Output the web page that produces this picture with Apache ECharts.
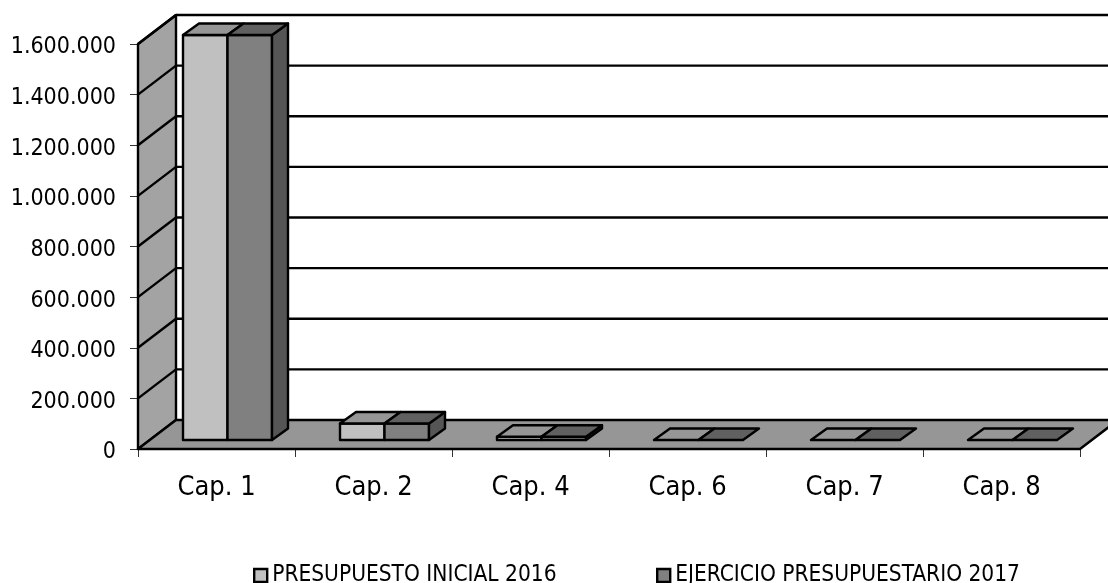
<!DOCTYPE html>
<html>
<head>
<meta charset="utf-8">
<title>Presupuesto por capítulos</title>
<script src="https://cdn.jsdelivr.net/npm/echarts@6/dist/echarts.min.js"></script>
<style>
  html, body { margin: 0; padding: 0; background: #fff; }
  #main { width: 1108px; height: 583px; }
</style>
</head>
<body>
<div id="main"></div>
<script>
const categories = ['Cap. 1', 'Cap. 2', 'Cap. 4', 'Cap. 6', 'Cap. 7', 'Cap. 8'];
const presupuesto = [1600000, 65000, 13000, 0, 0, 0];
const ejercicio = [1600000, 65000, 13000, 0, 0, 0];
const yTicks = [0, 200000, 400000, 600000, 800000, 1000000, 1200000, 1400000, 1600000];
const seriesNames = ['PRESUPUESTO INICIAL 2016', 'EJERCICIO PRESUPUESTARIO 2017'];

// fake 3d: how far the back wall sits from the axis plane
const wallDx = 38;
const wallDy = -29;
// bars stand a bit in front of the wall
const barShiftX = 11;
const barShiftY = -9;
const barDepthX = 16;
const barDepthY = -11.5;
const barWidth = 44.5;

const stroke = { stroke: '#000', lineWidth: 2.4, lineJoin: 'round' };

const poly = (points, fill) => ({
  type: 'polygon',
  shape: { points },
  style: { fill, ...stroke },
});

const line = (a, b) => ({
  type: 'polyline',
  shape: { points: [a, b] },
  style: { fill: null, ...stroke },
});

const renderBackdrop = (params, api) => {
  const origin = api.coord([0, 0]);
  const left = origin[0] - api.size([1, 0])[0] / 2;
  const right = left + api.size([1, 0])[0] * categories.length;
  const bottom = origin[1];
  const top = api.coord([0, yTicks[yTicks.length - 1]])[1];
  const children = [
    // wall
    poly([[left, bottom], [left + wallDx, bottom + wallDy], [left + wallDx, top + wallDy], [left, top]], '#a3a3a3'),
    // floor
    poly([[left, bottom], [right, bottom], [right + wallDx, bottom + wallDy], [left + wallDx, bottom + wallDy]], '#969696'),
  ];
  yTicks.forEach((t) => {
    const y = api.coord([0, t])[1];
    if (t > 0) children.push(line([left, y], [left + wallDx, y + wallDy]));
    if (t > 0) children.push(line([left + wallDx, y + wallDy], [right + wallDx, y + wallDy]));
  });
  return { type: 'group', children };
};

const barRenderer = (side, front, topFill, sideFill) => (params, api) => {
  const center = api.coord([api.value(0), 0]);
  const high = api.coord([api.value(0), api.value(1)]);
  const x0 = center[0] + barShiftX + (side < 0 ? -barWidth : 0);
  const x1 = x0 + barWidth;
  const yb = center[1] + barShiftY;
  const yt = high[1] + barShiftY;
  const dx = barDepthX;
  const dy = barDepthY;
  const children = [];
  if (yb - yt > 0.5) {
    children.push(poly([[x0, yb], [x1, yb], [x1, yt], [x0, yt]], front));
    if (side > 0) {
      children.push(poly([[x1, yb], [x1 + dx, yb + dy], [x1 + dx, yt + dy], [x1, yt]], sideFill));
    }
  }
  children.push(poly([[x0, yt], [x1, yt], [x1 + dx, yt + dy], [x0 + dx, yt + dy]], topFill));
  return { type: 'group', children };
};

const chart = echarts.init(document.getElementById('main'), null, { renderer: 'canvas' });
const labelFont = 'DejaVu Sans Condensed';

const legendBase = {
  top: 559,
  itemWidth: 13,
  itemHeight: 13,
  icon: 'rect',
  selectedMode: false,
  itemStyle: { borderColor: '#000', borderWidth: 2.4 },
  textStyle: { fontFamily: labelFont, fontSize: 22.5, color: '#000' },
};

chart.setOption({
  animation: false,
  backgroundColor: '#fff',
  legend: [
    { ...legendBase, data: [seriesNames[0]], left: 248 },
    { ...legendBase, data: [seriesNames[1]], left: 651 },
  ],
  grid: { left: 138, right: 28, top: 44, bottom: 134 },
  xAxis: {
    type: 'category',
    data: categories,
    axisLine: { show: false },
    axisTick: { show: true, length: 8, lineStyle: { color: '#333', width: 1 } },
    axisLabel: { color: '#000', fontFamily: labelFont, fontSize: 27, margin: 25 },
  },
  yAxis: {
    type: 'value',
    min: 0,
    max: 1600000,
    interval: 200000,
    splitLine: { show: false },
    axisLine: { show: false },
    axisTick: { show: true, length: 8, lineStyle: { color: '#333', width: 1 } },
    axisLabel: {
      margin: 22,
      formatter: (v) => '{v|' + v.toLocaleString('de-DE') + '}',
      rich: {
        v: { color: '#000', fontFamily: labelFont, fontSize: 23, padding: [7, 0, 0, 0] },
      },
    },
  },
  series: [
    {
      type: 'custom',
      name: 'fondo',
      silent: true,
      z: 1,
      data: [[0, 0]],
      renderItem: renderBackdrop,
    },
    {
      type: 'custom',
      name: seriesNames[0],
      z: 2,
      itemStyle: { color: '#c0c0c0' },
      encode: { x: 0, y: 1 },
      data: categories.map((c, i) => [i, presupuesto[i]]),
      renderItem: barRenderer(-1, '#c0c0c0', '#969696', '#606060'),
    },
    {
      type: 'custom',
      name: seriesNames[1],
      z: 3,
      itemStyle: { color: '#808080' },
      encode: { x: 0, y: 1 },
      data: categories.map((c, i) => [i, ejercicio[i]]),
      renderItem: barRenderer(1, '#808080', '#606060', '#555555'),
    },
  ],
});
</script>
</body>
</html>
